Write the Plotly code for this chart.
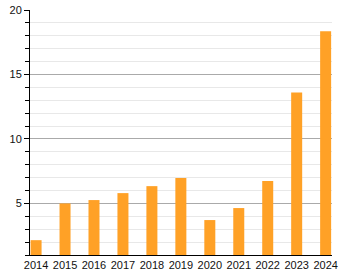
import plotly.graph_objects as go

years = ["2014", "2015", "2016", "2017", "2018", "2019", "2020", "2021", "2022", "2023", "2024"]
values = [2.15, 5.0, 5.26, 5.8, 6.34, 6.98, 3.71, 4.64, 6.73, 13.6, 18.35]

fig = go.Figure(go.Bar(
    x=years, y=values,
    marker=dict(color="#FFA126", line=dict(width=0)),
    width=0.38,
))

fig.update_layout(
    width=345, height=270,
    margin=dict(l=30, r=13, t=10, b=15, autoexpand=False),
    paper_bgcolor="white", plot_bgcolor="white",
    font=dict(family="Liberation Sans, Arial, sans-serif", size=11, color="#111"),
    showlegend=False,
)
fig.update_xaxes(
    type="category", range=[-0.21, 10.22], automargin=False,
    showline=True, linecolor="black", linewidth=1,
    ticks="", showgrid=False, tickfont=dict(size=11),
)
fig.update_yaxes(
    range=[1, 20], tickvals=[5, 10, 15, 20], automargin=False,
    showline=True, linecolor="black", linewidth=1,
    ticks="outside", ticklen=5, tickcolor="black",
    showgrid=True, gridcolor="#aaaaaa", gridwidth=1,
    zeroline=False,
    minor=dict(tick0=0, dtick=1, ticks="outside", ticklen=4, tickcolor="black",
               showgrid=True, gridcolor="#e8e8e8", gridwidth=1),
    tickfont=dict(size=11),
)

fig.write_html("out.html")
